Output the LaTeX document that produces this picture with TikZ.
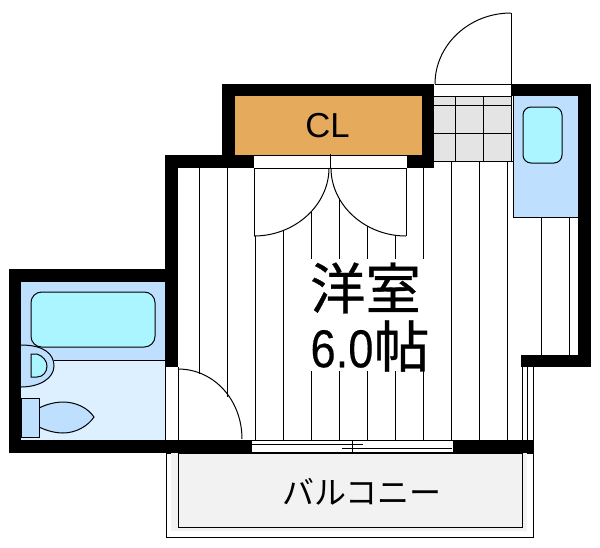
\documentclass[tikz,border=0pt]{standalone}
\usepackage{fontspec}
\setmainfont{Liberation Sans}
\newfontfamily\numfont[FakeBold=0.3]{Liberation Sans}
\newfontfamily\jpfont[FakeBold=0.6]{Noto Sans CJK JP}
\newfontfamily\jpthin{Noto Sans CJK JP}
\definecolor{wetblue}{HTML}{BFDFFF}
\definecolor{palecyan}{HTML}{AAF5FF}
\definecolor{paleblue}{HTML}{DDF0FF}
\definecolor{clorange}{HTML}{E5AA5C}
\definecolor{tilegray}{HTML}{E4E4E4}
\definecolor{balcgray}{HTML}{F2F2F2}
\tikzset{
	thin line/.style={line width=0.75pt,black},
	wall/.style={fill=black},
	fixture/.style={thin line,fill=wetblue},
	bowl/.style={thin line,fill=palecyan}
}
\begin{document}
\begin{tikzpicture}[x=0.75pt,y=-0.75pt]
	\useasboundingbox (0,0) rectangle (600,547);

	%BALCONY
	\draw[thin line] (166,453) rectangle (533,537);
	\fill[balcgray] (171,453) rectangle (527,531);
	\draw[thin line] (178,453) rectangle (522,527);

	%ROOMS
	\fill[clorange] (235,96) rectangle (422,155);
	\fill[tilegray] (434,96) rectangle (512,161);
	\fill[wetblue] (513,96) rectangle (578,217);
	\fill[wetblue] (21,282) rectangle (165,360);
	\fill[paleblue] (21,360) rectangle (165,440);

	%FLOOR LINES
	\foreach \x/\ystart in {283/231,451/161,479/161,507/161} {
		\draw[thin line] (\x,\ystart) -- (\x,440);
	}
	\foreach \x/\ystart in {311/212,339/198,367/226,395/235,423/168} {
		\draw[thin line] (\x,\ystart) -- (\x,259);
		\draw[thin line] (\x,371) -- (\x,440);
	}
	\foreach \x in {541,569} {
		\draw[thin line] (\x,217) -- (\x,355);
	}
	\draw[thin line] (255,236) -- (255,440);

	%ENTRY TILES
	\draw[thin line] (434,96) -- (512,96);
	\draw[thin line] (434,105) -- (512,105);
	\draw[thin line] (434,133) -- (512,133);
	\draw[thin line] (434,161) -- (513,161);
	\draw[thin line] (455,96) -- (455,161);
	\draw[thin line] (483,96) -- (483,161);
	\draw[thin line] (511,84) -- (511,161);

	%ENTRY DOOR
	\coordinate (entryhinge) at (511,84);
	\coordinate (entrytop) at (511,13);
	\coordinate (entryfree) at (435,84);
	\draw[thin line] (entryfree) -- (entryhinge) -- (entrytop);
	\draw[thin line] (entrytop) .. controls (469,13) and (435,45) .. (entryfree);

	%KITCHEN
	\draw[thin line] (513,96) -- (513,217) -- (578,217);
	\draw[bowl,rounded corners=6pt] (523,107) rectangle (562,163);

	%CLOSET DOORS
	\draw[thin line] (254,155) -- (407,155);
	\draw[thin line] (254,168) -- (407,168);
	\draw[thin line] (330,154) -- (330,168);
	\coordinate (leftcorner) at (254,236);
	\coordinate (rightcorner) at (406,236);
	\draw[thin line] (254,168) -- (leftcorner);
	\draw[thin line] (406,168) -- (rightcorner);
	\draw[thin line] (leftcorner) .. controls (295,236) and (329,205) .. (329,168);
	\draw[thin line] (rightcorner) .. controls (365,236) and (331,205) .. (331,168);

	%BATH
	\fill[white] (165,367) rectangle (178,440);
	\draw[thin line] (165.5,360) -- (165.5,440);
	\draw[thin line] (178,367) -- (178,440);
	\draw[thin line] (54,360) -- (165,360);
	\draw[bowl,rounded corners=8pt] (31,292) rectangle (155,347);
	\draw[fixture] (21,345) .. controls (44,345) and (54,354) .. (54,366)
		.. controls (54,378) and (40,387) .. (21,387);
	\draw[bowl] (31,354) -- (37,354) .. controls (43,356) and (47,361) .. (47,366)
		.. controls (47,372) and (43,377) .. (37,377) -- (31,377) -- cycle;
	\draw[fixture] (39,408) .. controls (47,404) and (56,402) .. (63,402)
		.. controls (76,402) and (88,408) .. (94,417)
		.. controls (88,426) and (76,433) .. (63,433)
		.. controls (56,433) and (47,431) .. (39,427);
	\draw[fixture] (21,398) rectangle (39,437);

	%LOWER DOOR
	\coordinate (bathhinge) at (178,369);
	\coordinate (bathfree) at (242,439);
	\draw[thin line] (bathhinge) .. controls (214,369) and (242,400) .. (bathfree);
	\draw[thin line] (199,168) -- (199,374);
	\draw[thin line] (227,168) -- (227,397);

	%SLIDING WINDOWS
	\fill[white] (252,440.5) rectangle (453,452);
	\draw[thin line] (252,440) -- (453,440);
	\draw[thin line] (252,452.5) -- (453,452.5);
	\draw[thin line] (252,444) -- (363,444);
	\draw[thin line] (342,448) -- (452,448);
	\draw[thin line] (352,440) -- (352,452);
	\foreach \x in {522,527,533} {
		\draw[thin line] (\x,363) -- (\x,440);
	}

	%WALLS
	\fill[wall] (222,84) rectangle (434,96);
	\fill[wall] (222,84) rectangle (235,168);
	\fill[wall] (422,84) rectangle (434,168);
	\fill[wall] (407,155) rectangle (434,168);
	\fill[wall] (165,155) rectangle (254,168);
	\fill[wall] (165,155) rectangle (178,367);
	\fill[wall] (512,84) rectangle (591,96);
	\fill[wall] (578,84) rectangle (591,367);
	\fill[wall] (521,355) rectangle (591,367);
	\fill[wall] (9,269) rectangle (178,282);
	\fill[wall] (9,269) rectangle (21,453);
	\fill[wall] (9,440) rectangle (252,453);
	\fill[wall] (453,440) rectangle (534,453);

	%LABELS
	\node (cl) at (327.5,126) {\fontsize{26}{26}\selectfont CL};
	\node (room) at (365.5,288) {\jpfont\fontsize{41.5}{42}\selectfont 洋室};
	\node (size) at (370,346) {\numfont\fontsize{40}{40}\selectfont\scalebox{.85}[1]{6.0}\jpfont\fontsize{42}{42}\selectfont 帖};
	\node (balcony) at (362,492) {\jpthin\fontsize{24}{24}\selectfont バルコニー};
\end{tikzpicture}
\end{document}
